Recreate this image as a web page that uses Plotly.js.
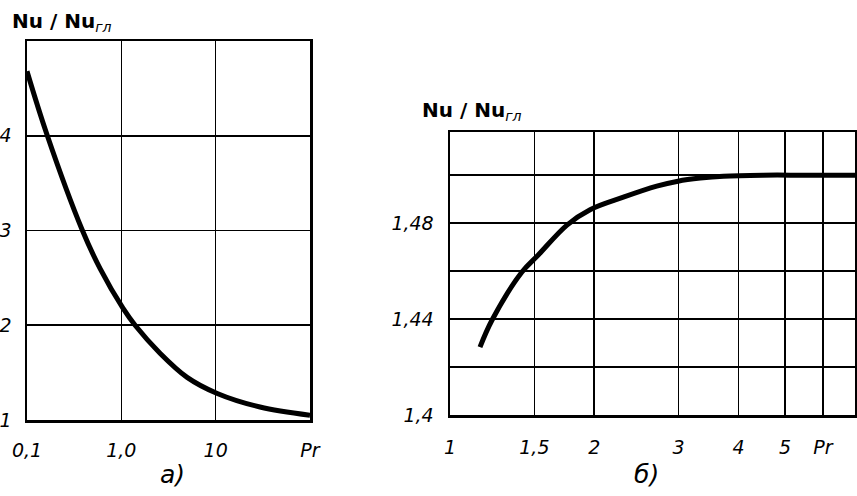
<!DOCTYPE html>
<html><head><meta charset="utf-8">
<script src="https://cdn.plot.ly/plotly-3.0.1.min.js"></script>
<style>html,body{margin:0;padding:0;background:#fff}#chart{width:857px;height:496px}</style>
</head><body><div id="chart"></div>
<script>
// Panel а): Nu/Nu_гл vs Pr (log)
const prA = [0.1, 0.163, 0.383, 0.594, 1.04, 1.40, 2.57, 4.98, 10.4, 29.5, 100];
const nuA = [4.68, 4.01, 3.01, 2.60, 2.18, 2.00, 1.705, 1.45, 1.28, 1.137, 1.05];
const xTickValsA = [0.1, 1, 10, 100];
const xTickTextA = ['0,1', '1,0', '10', 'Pr'];
const yTickValsA = [1, 2, 3, 4];
const yTickTextA = ['1', '2', '3', '4'];

// Panel б)
const prB = [1.155, 1.224, 1.413, 1.528, 1.754, 1.96, 2.30, 2.70, 2.99, 3.33, 3.72, 4.5, 5.5, 7];
const nuB = [1.4283, 1.4396, 1.4596, 1.4667, 1.4792, 1.4856, 1.4908, 1.4954, 1.4975, 1.4988, 1.4996, 1.50, 1.50, 1.50];
const xTickValsB = [1, 1.5, 2, 3, 4, 5, 6];
const xTickTextB = ['1', '1,5', '2', '3', '4', '5', 'Pr'];
const yTickValsB = [1.40, 1.42, 1.44, 1.46, 1.48, 1.50];
const yTickTextB = ['1,4', '', '1,44', '', '1,48', ''];

const FONT = 'DejaVu Sans';
const tickFont = {family: FONT, size: 19, color: '#000', style: 'italic'};

function xax(domain, range, tv, tt, stand, anchor) {
  return {type: 'log', domain, range, anchor, tickvals: tv, ticktext: tt, ticks: '',
    showgrid: true, gridcolor: '#000', gridwidth: 1.6, showline: true, linecolor: '#000',
    linewidth: 2.5, mirror: true, zeroline: false, tickfont: tickFont,
    ticklabelstandoff: stand, fixedrange: true};
}
function yax(domain, range, tv, tt, stand, anchor) {
  return {domain, range, anchor, tickvals: tv, ticktext: tt, ticks: '',
    showgrid: true, gridcolor: '#000', gridwidth: 1.6, showline: true, linecolor: '#000',
    linewidth: 2.5, mirror: true, zeroline: false, tickfont: tickFont,
    ticklabelstandoff: stand, fixedrange: true};
}

const traces = [
  {x: prA, y: nuA, xaxis: 'x', yaxis: 'y', mode: 'lines', line: {color: '#000', width: 5, shape: 'spline', smoothing: 1}, hoverinfo: 'skip'},
  {x: prB, y: nuB, xaxis: 'x2', yaxis: 'y2', mode: 'lines', line: {color: '#000', width: 5, shape: 'spline', smoothing: 1}, hoverinfo: 'skip'}
];

const W = 857, H = 496;
const layout = {
  width: W, height: H, margin: {l: 0, r: 0, t: 0, b: 0},
  paper_bgcolor: '#fff', plot_bgcolor: '#fff', showlegend: false,
  xaxis: xax([27/W, 310/W], [-1, 2], xTickValsA, xTickTextA, 12, 'y'),
  yaxis: yax([1 - 420/H, 1 - 41/H], [1, 5], yTickValsA, yTickTextA, 9, 'x'),
  xaxis2: xax([450/W, 855/W], [0, Math.log10(7)], xTickValsB, xTickTextB, 14, 'y2'),
  yaxis2: yax([1 - 415/H, 1 - 132/H], [1.40, 1.518], yTickValsB, yTickTextB, 10, 'x2'),
  annotations: [
    {text: '<b>Nu / Nu</b><sub><i>гл</i></sub>', xref: 'paper', yref: 'paper', x: 10/W, y: 1 - 7/H,
     xanchor: 'left', yanchor: 'top', showarrow: false, font: {family: FONT, size: 20, color: '#000'}},
    {text: '<b>Nu / Nu</b><sub><i>гл</i></sub>', xref: 'paper', yref: 'paper', x: 420/W, y: 1 - 96/H,
     xanchor: 'left', yanchor: 'top', showarrow: false, font: {family: FONT, size: 20, color: '#000'}},
    {text: 'а)', xref: 'paper', yref: 'paper', x: 172/W, y: 1 - 474/H,
     xanchor: 'center', yanchor: 'middle', showarrow: false, font: {family: FONT, size: 25, color: '#000', style: 'italic'}},
    {text: 'б)', xref: 'paper', yref: 'paper', x: 646/W, y: 1 - 474/H,
     xanchor: 'center', yanchor: 'middle', showarrow: false, font: {family: FONT, size: 25, color: '#000', style: 'italic'}}
  ]
};

Plotly.newPlot('chart', traces, layout, {displayModeBar: false, staticPlot: true});
</script></body></html>
